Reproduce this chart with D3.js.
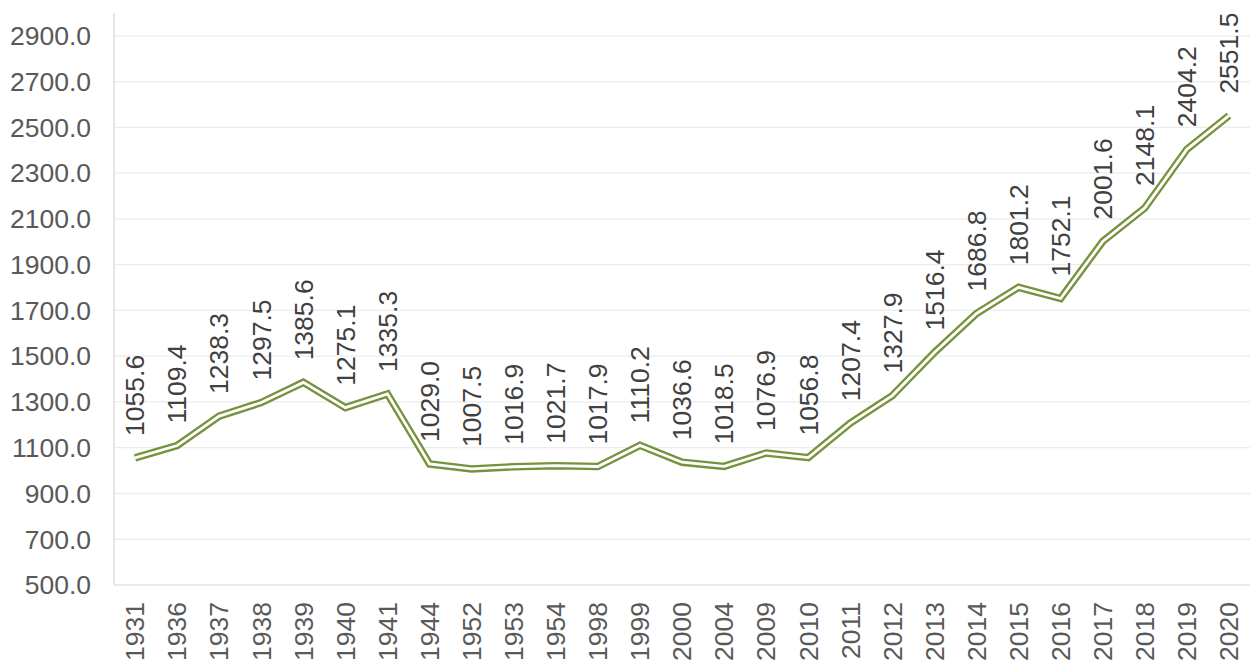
<!DOCTYPE html>
<html>
<head>
<meta charset="utf-8">
<script src="https://cdn.jsdelivr.net/npm/d3@7"></script>
<style>
  body { margin: 0; background: #fff; }
  text { font-family: "Liberation Sans", Arial, sans-serif; }
</style>
</head>
<body>
<div id="chart"></div>
<script>
var years = ["1931","1936","1937","1938","1939","1940","1941","1944","1952","1953","1954","1998","1999","2000","2004","2009","2010","2011","2012","2013","2014","2015","2016","2017","2018","2019","2020"];
var values = [1055.6,1109.4,1238.3,1297.5,1385.6,1275.1,1335.3,1029.0,1007.5,1016.9,1021.7,1017.9,1110.2,1036.6,1018.5,1076.9,1056.8,1207.4,1327.9,1516.4,1686.8,1801.2,1752.1,2001.6,2148.1,2404.2,2551.5];
var yTicks = [500,700,900,1100,1300,1500,1700,1900,2100,2300,2500,2700,2900];

var width = 1250, height = 662;
var mLeft = 114, mRight = 1250, mTop = 13, mBottom = 585;
var fontSize = '26.5px';

var svg = d3.select('#chart').append('svg')
  .attr('width', width)
  .attr('height', height);

var x = d3.scaleBand()
  .domain(years)
  .range([mLeft, mRight]);

var y = d3.scaleLinear()
  .domain([500, 3000])
  .range([mBottom, mTop]);

// gridlines
svg.append('g')
  .selectAll('line')
  .data(yTicks.slice(1))
  .enter()
  .append('line')
  .attr('x1', mLeft)
  .attr('x2', mRight)
  .attr('y1', function(d) { return y(d); })
  .attr('y2', function(d) { return y(d); })
  .attr('stroke', '#ececec')
  .attr('stroke-width', 1.3);

// axis lines
svg.append('line')
  .attr('x1', mLeft).attr('x2', mLeft)
  .attr('y1', mTop).attr('y2', mBottom)
  .attr('stroke', '#d9d9d9').attr('stroke-width', 1.3);
svg.append('line')
  .attr('x1', mLeft).attr('x2', mRight)
  .attr('y1', mBottom).attr('y2', mBottom)
  .attr('stroke', '#e2e2e2').attr('stroke-width', 1.3);

// y tick labels
svg.append('g')
  .selectAll('text')
  .data(yTicks)
  .enter()
  .append('text')
  .attr('x', mLeft - 23)
  .attr('y', function(d) { return y(d); })
  .attr('dy', '0.35em')
  .attr('text-anchor', 'end')
  .attr('fill', '#595959')
  .style('font-size', fontSize)
  .text(function(d) { return d3.format('.1f')(d); });

// x tick labels
svg.append('g')
  .selectAll('text')
  .data(years)
  .enter()
  .append('text')
  .attr('transform', function(d) {
    return 'translate(' + (x(d) + x.bandwidth() / 2) + ',' + (mBottom + 17) + ') rotate(-90)';
  })
  .attr('dy', '0.35em')
  .attr('text-anchor', 'end')
  .attr('fill', '#595959')
  .style('font-size', fontSize)
  .text(function(d) { return d; });

var line = d3.line()
  .x(function(d, i) { return x(years[i]) + x.bandwidth() / 2; })
  .y(function(d) { return y(d); });

svg.append('path')
  .datum(values)
  .attr('d', line)
  .attr('fill', 'none')
  .attr('stroke', '#76923c')
  .attr('stroke-width', 7.5)
  .attr('stroke-linejoin', 'miter');

svg.append('path')
  .datum(values)
  .attr('d', line)
  .attr('fill', 'none')
  .attr('stroke', '#fff')
  .attr('stroke-width', 2.8)
  .attr('stroke-linejoin', 'miter');

// data labels
svg.append('g')
  .selectAll('text')
  .data(values)
  .enter()
  .append('text')
  .attr('transform', function(d, i) {
    return 'translate(' + (x(years[i]) + x.bandwidth() / 2) + ',' + (y(d) - 22) + ') rotate(-90)';
  })
  .attr('dy', '0.35em')
  .attr('text-anchor', 'start')
  .attr('fill', '#404040')
  .style('font-size', fontSize)
  .text(function(d) { return d3.format('.1f')(d); });
</script>
</body>
</html>
